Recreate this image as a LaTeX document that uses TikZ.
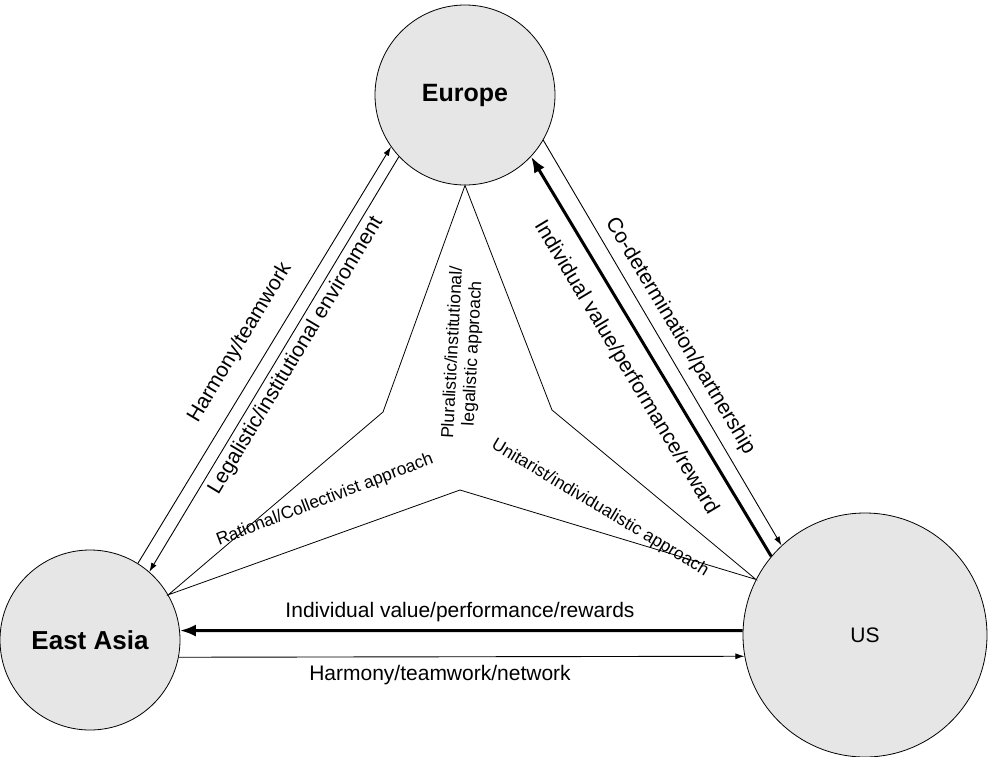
\documentclass[tikz,border=0pt]{standalone}
\usepackage{fontspec}
\setmainfont{Liberation Sans}
\usetikzlibrary{arrows.meta}
\definecolor{regiongray}{RGB}{230,230,230}
\tikzset{
  region/.style={circle, draw, fill=regiongray, line width=0.8pt, inner sep=0pt},
  thinarrow/.style={draw, line width=0.9pt, -{Latex[length=9pt,width=6pt]}},
  thickarrow/.style={draw, line width=3pt, -{Latex[length=16pt,width=12pt]}},
  lbl/.style={font=\fontsize{21}{23}\selectfont, inner sep=1pt, align=center},
  small lbl/.style={lbl, font=\fontsize{17.5}{20}\selectfont}
}
\begin{document}
\begin{tikzpicture}[x=1pt,y=-1pt]
\useasboundingbox (0,0) rectangle (991,756);
% regions
\node[region, minimum size=180pt, font=\bfseries\fontsize{25}{27}\selectfont] (eu) at (465,95) {Europe};
\node[region, minimum size=180pt, font=\bfseries\fontsize{26}{28}\selectfont] (ea) at (90,640) {East Asia};
\node[region, minimum size=244pt, font=\fontsize{21}{23}\selectfont] (us) at (865,635) {US};
% inner approaches
\coordinate (lw) at (383,412);
\coordinate (bw) at (460,490);
\coordinate (rw) at (552,410);
\draw[line width=0.8pt] (eu.270) -- (lw) -- (ea.30) -- (bw) -- (us.153) -- (rw) -- cycle;
% Europe -- East Asia
\draw[thinarrow] (ea.58) -- (eu.215);
\draw[thinarrow] (eu.223) -- (ea.49);
% Europe -- US
\draw[thickarrow] (us.140) -- (eu.317);
\draw[thinarrow] (eu.330) -- (us.133);
% US -- East Asia
\draw[thickarrow] (us.178) -- (ea.6);
\draw[thinarrow] (ea.349) -- (us.190);
% labels
\node[lbl, rotate=59] (l1) at (240,343) {Harmony/teamwork};
\node[lbl, rotate=59] (l2) at (296,356) {Legalistic/institutional environment};
\node[small lbl, rotate=21] (l3) at (325,500) {Rational/Collectivist approach};
\node[small lbl, rotate=87] (l4) at (463,353) {Pluralistic/institutional/\\legalistic approach};
\node[small lbl, rotate=-31] (l5) at (600,508) {Unitarist/individualistic approach};
\node[lbl, rotate=-59] (l6) at (626,368) {Individual value/performance/reward};
\node[lbl, rotate=-59] (l7) at (680,336) {Co-determination/partnership};
\node[lbl] (l8) at (460,612) {Individual value/performance/rewards};
\node[lbl] (l9) at (440,675) {Harmony/teamwork/network};
\end{tikzpicture}
\end{document}
